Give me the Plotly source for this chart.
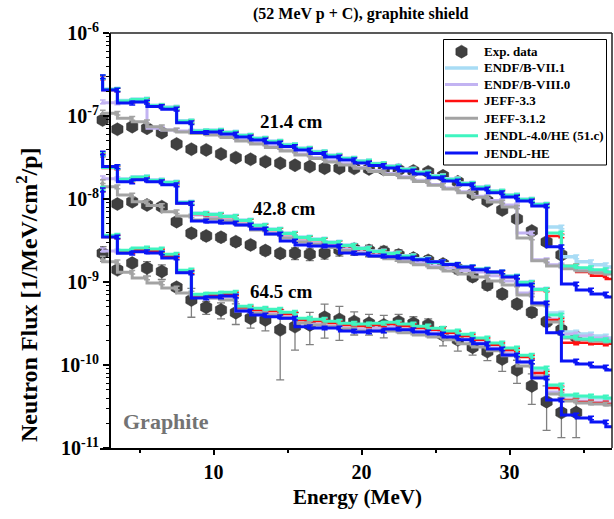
import plotly.graph_objects as go

FONT = "Liberation Serif"

# ---------------- data ----------------
# right edges (MeV) of the 1-MeV bins of the simulated spectra
SIM_E = [2.5, 3.5, 4.5, 5.5, 6.5, 7.5, 8.5, 9.5, 10.5, 11.5, 12.5, 13.5, 14.5, 15.5, 16.5, 17.5,
         18.5, 19.5, 20.5, 21.5, 22.5, 23.5, 24.5, 25.5, 26.5, 27.5, 28.5, 29.5, 30.5, 31.5, 32.5,
         33.5, 34.5, 35.5, 36.5, 37.5]

# experimental energies (MeV)
EXP_E_214 = [2.5, 3.5, 4.5, 5.5, 6.5, 7.5, 8.5, 9.5, 10.5, 11.5, 12.5, 13.5, 14.5, 15.5, 16.5, 17.5,
             18.5, 19.5, 20.5, 21.5, 22.5, 23.5, 24.5, 25.5, 26.5, 27.5, 28.5, 29.5, 30.5, 31.5, 32.5, 33.5]
EXP_E_428 = [3.5, 4.5, 5.5, 6.5, 7.5, 8.5, 9.5, 10.5, 11.5, 12.5, 13.5, 14.5, 15.5, 16.5, 17.5,
             18.5, 19.5, 20.5, 21.5, 22.5, 23.5, 24.5, 25.5, 26.5, 27.5, 28.5, 29.5, 30.5, 31.5, 32.5, 33.5, 34.5]
EXP_E_645 = [2.5, 3.5, 4.5, 5.5, 6.5, 7.5, 8.5, 9.5, 10.5, 11.5, 12.5, 13.5, 14.5, 15.5, 16.5, 17.5,
             18.5, 19.5, 20.5, 21.5, 22.5, 23.5, 24.5, 25.5, 26.5, 27.5, 28.5, 29.5, 30.5, 31.5, 32.5, 33.5, 34.5]

# experimental flux [1/MeV/cm2/p]
EXP_214 = [8.95e-8, 6.92e-8, 7.44e-8, 7.11e-8, 6.30e-8, 4.60e-8, 3.98e-8, 3.90e-8, 3.49e-8, 3.15e-8,
           3.01e-8, 2.82e-8, 2.70e-8, 2.55e-8, 2.46e-8, 2.35e-8, 2.35e-8, 2.34e-8, 2.30e-8, 2.27e-8,
           2.24e-8, 2.18e-8, 2.12e-8, 1.90e-8, 1.61e-8, 1.15e-8, 9.46e-9, 7.37e-9, 5.75e-9, 4.12e-9,
           3.04e-9, 2.12e-9]
EXP_428 = [8.71e-9, 9.28e-9, 8.47e-9, 8.08e-9, 5.33e-9, 3.87e-9, 3.59e-9, 3.46e-9, 3.06e-9, 2.80e-9,
           2.39e-9, 2.21e-9, 2.22e-9, 2.16e-9, 2.24e-9, 2.44e-9, 2.50e-9, 2.40e-9, 2.32e-9, 2.12e-9,
           1.94e-9, 1.82e-9, 1.65e-9, 1.44e-9, 1.16e-9, 9.20e-10, 7.17e-10, 5.44e-10, 4.32e-10, 3.33e-10,
           2.65e-10, 2.18e-10]
EXP_645 = [2.22e-9, 1.40e-9, 1.69e-9, 1.47e-9, 1.34e-9, 8.63e-10, 6.07e-10, 4.96e-10, 4.60e-10, 4.27e-10,
           3.66e-10, 3.49e-10, 2.65e-10, 2.90e-10, 3.04e-10, 3.76e-10, 3.54e-10, 3.33e-10, 3.18e-10, 3.04e-10,
           3.33e-10, 3.18e-10, 3.04e-10, 2.30e-10, 2.01e-10, 1.64e-10, 1.45e-10, 1.18e-10, 8.71e-11, 5.59e-11,
           3.62e-11, 2.67e-11, 2.67e-11]

# relative experimental uncertainties
EXP_REL_214 = [0.04] * 32
EXP_REL_428 = [0.06, 0.06, 0.06, 0.06, 0.06, 0.12, 0.12, 0.12, 0.12, 0.12, 0.12, 0.12, 0.16, 0.16, 0.16,
               0.16, 0.16, 0.16, 0.16, 0.16, 0.13, 0.13, 0.13, 0.13, 0.13, 0.13, 0.13, 0.13, 0.13, 0.13,
               0.13, 0.13]
EXP_REL_645 = [0.20, 0.05, 0.08, 0.20, 0.20, 0.06, 0.38, 0.18, 0.22, 0.28, 0.24, 0.26, 0.75, 0.48, 0.42,
               0.44, 0.44, 0.31, 0.28, 0.30, 0.22, 0.20, 0.18, 0.26, 0.27, 0.20, 0.22, 0.29, 0.31, 0.40,
               0.55, 0.50, 0.50]

# simulated spectra (value of each 1-MeV bin, bin ending at SIM_E)
ENDF71_214 = [2.96e-7, 2.12e-7, 1.54e-7, 1.60e-7, 1.35e-7, 1.28e-7, 8.78e-8, 6.69e-8, 6.78e-8, 6.41e-8,
              5.91e-8, 5.44e-8, 5.01e-8, 4.54e-8, 4.12e-8, 3.74e-8, 3.39e-8, 3.12e-8, 2.88e-8, 2.68e-8,
              2.51e-8, 2.30e-8, 2.12e-8, 1.90e-8, 1.75e-8, 1.56e-8, 1.40e-8, 1.25e-8, 1.12e-8, 1.00e-8,
              8.71e-9, 4.60e-9, 2.01e-9, 1.75e-9, 1.61e-9, 1.52e-9]
ENDF71_428 = [3.48e-8, 2.44e-8, 1.75e-8, 1.85e-8, 1.70e-8, 1.60e-8, 9.20e-9, 6.78e-9, 6.60e-9, 6.24e-9,
              5.59e-9, 4.86e-9, 4.36e-9, 3.90e-9, 3.48e-9, 3.30e-9, 3.04e-9, 2.80e-9, 2.57e-9, 2.36e-9,
              2.24e-9, 2.07e-9, 1.90e-9, 1.75e-9, 1.66e-9, 1.54e-9, 1.44e-9, 1.33e-9, 1.18e-9, 1.00e-9,
              8.23e-10, 4.24e-10, 2.50e-10, 2.37e-10, 2.24e-10, 2.12e-10]
ENDF71_645 = [1.33e-8, 3.59e-9, 2.36e-9, 2.51e-9, 2.44e-9, 2.12e-9, 1.36e-9, 6.98e-10, 7.18e-10, 7.37e-10,
              5.01e-10, 4.73e-10, 4.61e-10, 4.24e-10, 3.59e-10, 3.48e-10, 3.30e-10, 3.13e-10, 3.04e-10, 3.13e-10,
              3.21e-10, 3.04e-10, 2.88e-10, 2.72e-10, 2.51e-10, 2.30e-10, 2.07e-10, 1.80e-10, 1.56e-10, 1.29e-10,
              8.71e-11, 5.59e-11, 4.24e-11, 4.12e-11, 4.01e-11, 3.90e-11]

ENDF80_214 = [1.48e-7, 1.44e-7, 1.50e-7, 1.48e-7, 7.11e-8, 6.79e-8, 6.60e-8, 6.42e-8, 6.07e-8, 5.67e-8,
              5.14e-8, 4.73e-8, 4.30e-8, 3.90e-8, 3.49e-8, 3.17e-8, 2.88e-8, 2.65e-8, 2.40e-8, 2.21e-8,
              2.03e-8, 1.85e-8, 1.68e-8, 1.50e-8, 1.36e-8, 1.22e-8, 1.08e-8, 9.59e-9, 8.47e-9, 3.90e-9,
              1.85e-9, 1.61e-9, 1.48e-9, 1.40e-9, 1.36e-9, 1.32e-9]
ENDF80_428 = [1.80e-8, 1.75e-8, 1.70e-8, 1.75e-8, 1.62e-8, 1.53e-8, 8.80e-9, 6.42e-9, 5.91e-9, 5.59e-9,
              5.00e-9, 4.36e-9, 3.90e-9, 3.49e-9, 3.12e-9, 2.96e-9, 2.72e-9, 2.50e-9, 2.30e-9, 2.12e-9,
              2.01e-9, 1.85e-9, 1.70e-9, 1.56e-9, 1.48e-9, 1.38e-9, 1.32e-9, 1.19e-9, 1.03e-9, 7.37e-10,
              5.59e-10, 3.59e-10, 2.37e-10, 2.24e-10, 2.12e-10, 2.06e-10]
ENDF80_645 = [2.44e-9, 2.37e-9, 2.37e-9, 2.50e-9, 2.37e-9, 2.06e-9, 1.30e-9, 6.70e-10, 6.42e-10, 6.60e-10,
              4.48e-10, 4.24e-10, 4.12e-10, 3.79e-10, 3.21e-10, 3.12e-10, 2.96e-10, 2.80e-10, 2.72e-10, 2.80e-10,
              2.88e-10, 2.72e-10, 2.57e-10, 2.44e-10, 2.24e-10, 2.06e-10, 1.85e-10, 1.61e-10, 1.40e-10, 1.09e-10,
              7.37e-11, 4.73e-11, 3.79e-11, 3.69e-11, 3.59e-11, 3.49e-11]

JEFF33_214 = [2.88e-7, 2.06e-7, 1.50e-7, 1.56e-7, 1.31e-7, 1.24e-7, 8.54e-8, 6.51e-8, 6.60e-8, 6.24e-8,
              5.75e-8, 5.29e-8, 4.87e-8, 4.42e-8, 4.01e-8, 3.64e-8, 3.30e-8, 3.04e-8, 2.80e-8, 2.61e-8,
              2.44e-8, 2.24e-8, 2.06e-8, 1.85e-8, 1.70e-8, 1.52e-8, 1.36e-8, 1.22e-8, 1.09e-8, 9.73e-9,
              8.47e-9, 3.59e-9, 1.56e-9, 1.32e-9, 1.19e-9, 1.09e-9]
JEFF33_428 = [3.39e-8, 2.37e-8, 1.70e-8, 1.80e-8, 1.65e-8, 1.56e-8, 8.95e-9, 6.60e-9, 6.42e-9, 6.07e-9,
              5.44e-9, 4.73e-9, 4.24e-9, 3.79e-9, 3.39e-9, 3.21e-9, 2.96e-9, 2.72e-9, 2.50e-9, 2.30e-9,
              2.18e-9, 2.01e-9, 1.85e-9, 1.70e-9, 1.61e-9, 1.50e-9, 1.40e-9, 1.29e-9, 1.15e-9, 9.73e-10,
              8.01e-10, 3.49e-10, 1.85e-10, 1.85e-10, 1.80e-10, 1.80e-10]
JEFF33_645 = [1.29e-8, 3.49e-9, 2.30e-9, 2.44e-9, 2.37e-9, 2.06e-9, 1.32e-9, 6.79e-10, 6.98e-10, 7.17e-10,
              4.87e-10, 4.60e-10, 4.48e-10, 4.12e-10, 3.49e-10, 3.39e-10, 3.21e-10, 3.04e-10, 2.96e-10, 3.04e-10,
              3.12e-10, 2.96e-10, 2.80e-10, 2.65e-10, 2.44e-10, 2.24e-10, 2.01e-10, 1.75e-10, 1.52e-10, 1.25e-10,
              8.01e-11, 5.29e-11, 3.79e-11, 3.59e-11, 3.49e-11, 3.39e-11]

JEFF312_214 = [1.12e-7, 1.08e-7, 9.38e-8, 8.54e-8, 7.44e-8, 6.79e-8, 6.42e-8, 6.16e-8, 5.91e-8, 5.51e-8,
               5.00e-8, 4.60e-8, 4.18e-8, 3.79e-8, 3.39e-8, 3.08e-8, 2.80e-8, 2.57e-8, 2.34e-8, 2.15e-8,
               1.98e-8, 1.80e-8, 1.63e-8, 1.46e-8, 1.32e-8, 1.19e-8, 1.05e-8, 9.20e-9, 8.01e-9, 3.39e-9,
               1.80e-9, 1.56e-9, 1.44e-9, 1.36e-9, 1.29e-9, 1.25e-9]
JEFF312_428 = [1.62e-8, 1.40e-8, 1.12e-8, 9.28e-9, 8.35e-9, 7.03e-9, 6.24e-9, 5.59e-9, 5.75e-9, 5.44e-9,
               4.87e-9, 4.24e-9, 3.79e-9, 3.39e-9, 3.04e-9, 2.84e-9, 2.61e-9, 2.40e-9, 2.21e-9, 2.03e-9,
               1.90e-9, 1.75e-9, 1.61e-9, 1.48e-9, 1.36e-9, 1.25e-9, 1.15e-9, 1.03e-9, 9.20e-10, 6.98e-10,
               5.29e-10, 3.30e-10, 2.12e-10, 2.01e-10, 1.95e-10, 1.90e-10]
JEFF312_645 = [1.95e-9, 1.75e-9, 1.31e-9, 1.12e-9, 9.73e-10, 8.47e-10, 7.37e-10, 6.98e-10, 6.42e-10, 6.07e-10,
               4.60e-10, 4.24e-10, 4.01e-10, 3.69e-10, 3.21e-10, 3.04e-10, 2.88e-10, 2.72e-10, 2.57e-10, 2.57e-10,
               2.57e-10, 2.44e-10, 2.30e-10, 2.18e-10, 2.01e-10, 1.80e-10, 1.65e-10, 1.48e-10, 1.29e-10, 9.73e-11,
               7.17e-11, 4.48e-11, 3.69e-11, 3.49e-11, 3.39e-11, 3.30e-11]

JENDL4_214 = [2.92e-7, 2.09e-7, 1.52e-7, 1.58e-7, 1.33e-7, 1.26e-7, 8.66e-8, 6.60e-8, 6.69e-8, 6.33e-8,
              5.83e-8, 5.36e-8, 4.94e-8, 4.48e-8, 4.07e-8, 3.69e-8, 3.35e-8, 3.08e-8, 2.84e-8, 2.65e-8,
              2.47e-8, 2.27e-8, 2.09e-8, 1.88e-8, 1.72e-8, 1.54e-8, 1.38e-8, 1.24e-8, 1.11e-8, 9.87e-9,
              8.59e-9, 3.90e-9, 1.56e-9, 1.48e-9, 1.40e-9, 1.32e-9]
JENDL4_428 = [3.44e-8, 2.40e-8, 1.72e-8, 1.83e-8, 1.67e-8, 1.58e-8, 9.08e-9, 6.69e-9, 6.51e-9, 6.15e-9,
              5.52e-9, 4.80e-9, 4.30e-9, 3.84e-9, 3.44e-9, 3.26e-9, 3.00e-9, 2.76e-9, 2.54e-9, 2.33e-9,
              2.21e-9, 2.04e-9, 1.88e-9, 1.72e-9, 1.63e-9, 1.52e-9, 1.42e-9, 1.31e-9, 1.17e-9, 9.87e-10,
              8.12e-10, 4.01e-10, 2.18e-10, 2.06e-10, 2.01e-10, 1.95e-10]
JENDL4_645 = [1.35e-8, 3.66e-9, 2.42e-9, 2.56e-9, 2.49e-9, 2.16e-9, 1.39e-9, 7.13e-10, 7.33e-10, 7.53e-10,
              5.11e-10, 4.83e-10, 4.70e-10, 4.33e-10, 3.66e-10, 3.56e-10, 3.37e-10, 3.19e-10, 3.11e-10, 3.19e-10,
              3.28e-10, 3.11e-10, 2.94e-10, 2.78e-10, 2.56e-10, 2.35e-10, 2.11e-10, 1.84e-10, 1.60e-10, 1.31e-10,
              9.20e-11, 5.75e-11, 4.36e-11, 4.24e-11, 4.12e-11, 4.01e-11]

JENDLHE_214 = [2.98e-7, 2.06e-7, 1.43e-7, 1.47e-7, 1.30e-7, 1.21e-7, 8.31e-8, 6.33e-8, 6.42e-8, 6.07e-8,
               5.59e-8, 5.15e-8, 4.74e-8, 4.30e-8, 3.90e-8, 3.54e-8, 3.21e-8, 2.96e-8, 2.72e-8, 2.54e-8,
               2.37e-8, 2.18e-8, 2.00e-8, 1.80e-8, 1.65e-8, 1.48e-8, 1.32e-8, 1.19e-8, 1.06e-8, 9.46e-9,
               8.24e-9, 2.65e-9, 9.46e-10, 8.01e-10, 7.17e-10, 6.60e-10]
JENDLHE_428 = [3.59e-8, 2.46e-8, 1.61e-8, 1.70e-8, 1.61e-8, 1.48e-8, 8.88e-9, 5.44e-9, 5.29e-9, 5.14e-9,
               4.87e-9, 4.36e-9, 3.79e-9, 3.12e-9, 2.80e-9, 2.72e-9, 2.72e-9, 2.24e-9, 2.18e-9, 2.06e-9,
               2.01e-9, 1.95e-9, 1.85e-9, 1.75e-9, 1.63e-9, 1.52e-9, 1.40e-9, 1.32e-9, 1.15e-9, 9.20e-10,
               5.59e-10, 2.44e-10, 1.12e-10, 1.03e-10, 9.46e-11, 8.71e-11]
JENDLHE_645 = [1.29e-8, 3.49e-9, 2.22e-9, 2.32e-9, 2.24e-9, 1.95e-9, 1.29e-9, 6.42e-10, 6.60e-10, 6.79e-10,
               4.48e-10, 4.01e-10, 3.82e-10, 3.66e-10, 2.88e-10, 2.80e-10, 2.80e-10, 2.57e-10, 2.50e-10, 2.57e-10,
               2.72e-10, 2.65e-10, 2.50e-10, 2.37e-10, 2.18e-10, 2.01e-10, 1.80e-10, 1.56e-10, 1.32e-10, 1.09e-10,
               6.98e-11, 3.79e-11, 2.50e-11, 2.30e-11, 2.06e-11, 1.80e-11]

LIB_NAMES = ["ENDF/B-VII.1", "ENDF/B-VIII.0", "JEFF-3.3", "JEFF-3.1.2", "JENDL-4.0/HE (51.c)", "JENDL-HE"]
LIB_COLORS = ["#a8dcf5", "#c2b3f2", "#ff1010", "#a3a3a3", "#3ff5c0", "#0a14f5"]
LIB_WIDTHS = [3.5, 3.0, 2.5, 3.0, 3.0, 3.0]
LIB_DATA = [
    (ENDF71_214, ENDF71_428, ENDF71_645),
    (ENDF80_214, ENDF80_428, ENDF80_645),
    (JEFF33_214, JEFF33_428, JEFF33_645),
    (JEFF312_214, JEFF312_428, JEFF312_645),
    (JENDL4_214, JENDL4_428, JENDL4_645),
    (JENDLHE_214, JENDLHE_428, JENDLHE_645),
]

Y_TICKS = [1e-11, 1e-10, 1e-9, 1e-8, 1e-7, 1e-6]
Y_TICKTEXT = ["10<sup>-11</sup>", "10<sup>-10</sup>", "10<sup>-9</sup>", "10<sup>-8</sup>",
              "10<sup>-7</sup>", "10<sup>-6</sup>"]
X_TICKS = [10, 20, 30]
X_MINOR = [5, 15, 25, 35]

# ---------------- figure ----------------
def join(a, b, c):
    return list(a) + [None] + list(b) + [None] + list(c)


EXP_COLOR = "#404040"
fig = go.Figure()

exp_err = join([v * r for v, r in zip(EXP_214, EXP_REL_214)],
               [v * r for v, r in zip(EXP_428, EXP_REL_428)],
               [v * r for v, r in zip(EXP_645, EXP_REL_645)])
fig.add_trace(go.Scatter(
    x=join(EXP_E_214, EXP_E_428, EXP_E_645), y=join(EXP_214, EXP_428, EXP_645),
    mode="markers", name="Exp. data", showlegend=False,
    marker=dict(symbol="hexagon", size=13, color=EXP_COLOR, line=dict(color="#2a2a2a", width=0.5)),
    error_y=dict(type="data", array=exp_err, color="#808080", thickness=1.3, width=4),
    cliponaxis=False,
))

for name, color, w, (a, b, c) in zip(LIB_NAMES, LIB_COLORS, LIB_WIDTHS, LIB_DATA):
    fig.add_trace(go.Scatter(
        x=join(SIM_E, SIM_E, SIM_E), y=join(a, b, c), mode="lines", name=name, showlegend=False,
        line=dict(color=color, width=w, shape="vh"), connectgaps=False,
        error_y=dict(type="percent", value=5, color=color, thickness=1.5, width=3),
    ))

# geometry: plot area from x=100 px to 612 px, E=3 MeV at 110 px, 14.8 px per MeV
L, R, T, B = 100, 2, 33, 71
W, H = 614, 519
pw = W - L - R
ph = H - T - B
x0 = 3 - 10 / 14.8
x1 = x0 + pw / 14.8
ypos = 10 / pw


def px(xp):
    return (xp - L) / pw


def py(yp):
    return (H - B - yp) / ph


def bold(size, color="black"):
    return dict(family=FONT, size=size, color=color, weight="bold")


def label(text, x, y, size, color="black", **kw):
    return dict(text=text, xref="paper", yref="paper", x=px(x), y=py(y),
                xanchor="center", yanchor="middle", showarrow=False,
                font=bold(size, color), **kw)


shapes = [
    dict(type="line", xref="paper", yref="paper", x0=ypos, x1=1, y0=1, y1=1,
         line=dict(color="#222", width=1.5)),
    dict(type="line", xref="paper", yref="paper", x0=1, x1=1, y0=0, y1=1,
         line=dict(color="#222", width=1.5)),
]
annotations = [
    label("(52 MeV p + C), graphite shield", 361, 14, 16),
    label("Energy (MeV)", 357, 497, 21),
    label("Neutron Flux [1/MeV/cm<sup>2</sup>/p]", 27, 295, 24, textangle=-90),
    label("21.4 cm", 291, 122, 19),
    label("42.8 cm", 284, 208, 19),
    label("64.5 cm", 281, 291, 19),
    label("Graphite", 166, 421, 22, color="#737373"),
]

# legend (drawn by hand to match the compact item spacing)
LEG_L, LEG_R, LEG_T, LEG_B = 443.5, 606.5, 39.5, 165
ROW_Y = [51.7, 67.9, 84.4, 101.0, 118.3, 135.8, 153.0]
shapes.append(dict(type="rect", xref="paper", yref="paper", layer="above",
                   x0=px(LEG_L), x1=px(LEG_R), y0=py(LEG_B), y1=py(LEG_T),
                   line=dict(color="black", width=1), fillcolor="white"))
r = 6.5
hexpath = "M 0,{r} L {a},{h} L {a},-{h} L 0,-{r} L -{a},-{h} L -{a},{h} Z".format(
    r=r, a=round(r * 0.866, 2), h=r / 2)
shapes.append(dict(type="path", xref="paper", yref="paper", layer="above",
                   xsizemode="pixel", ysizemode="pixel",
                   xanchor=px(461.5), yanchor=py(ROW_Y[0]), path=hexpath,
                   fillcolor=EXP_COLOR, line=dict(color="#2a2a2a", width=0.5)))
annotations.append(dict(text="Exp. data", xref="paper", yref="paper", x=px(481.5), y=py(ROW_Y[0]),
                        xanchor="left", yanchor="middle", showarrow=False, font=bold(13)))
for yrow, name, color, w in zip(ROW_Y[1:], LIB_NAMES, LIB_COLORS, LIB_WIDTHS):
    shapes.append(dict(type="line", xref="paper", yref="paper", layer="above",
                       x0=px(445), x1=px(478), y0=py(yrow), y1=py(yrow),
                       line=dict(color=color, width=w)))
    annotations.append(dict(text=name, xref="paper", yref="paper", x=px(481.5), y=py(yrow),
                            xanchor="left", yanchor="middle", showarrow=False, font=bold(13)))

fig.update_layout(
    width=W, height=H,
    margin=dict(l=L, r=R, t=T, b=B),
    paper_bgcolor="white", plot_bgcolor="white",
    font=dict(family=FONT, color="black", weight="bold"),
    showlegend=False,
    xaxis=dict(
        range=[x0, x1], showgrid=False, zeroline=False,
        showline=True, linecolor="black", linewidth=2,
        ticks="outside", ticklen=5, tickwidth=2, tickcolor="black",
        tickvals=X_TICKS, ticktext=[str(v) for v in X_TICKS],
        tickfont=bold(20),
        minor=dict(tickvals=X_MINOR, ticks="outside", ticklen=3, tickwidth=1.5, tickcolor="black"),
        automargin=False,
    ),
    yaxis=dict(
        type="log", range=[-11, -6], anchor="free", position=ypos,
        showgrid=False, zeroline=False,
        showline=True, linecolor="black", linewidth=2,
        ticks="outside", ticklen=6, tickwidth=2, tickcolor="black",
        tickvals=Y_TICKS, ticktext=Y_TICKTEXT,
        tickfont=bold(20),
        minor=dict(tickvals=[m * d for d in Y_TICKS[:-1] for m in range(2, 10)],
                   ticks="outside", ticklen=3, tickwidth=1, tickcolor="black"),
        automargin=False,
    ),
    shapes=shapes,
    annotations=annotations,
)

fig.write_html("out.html")
